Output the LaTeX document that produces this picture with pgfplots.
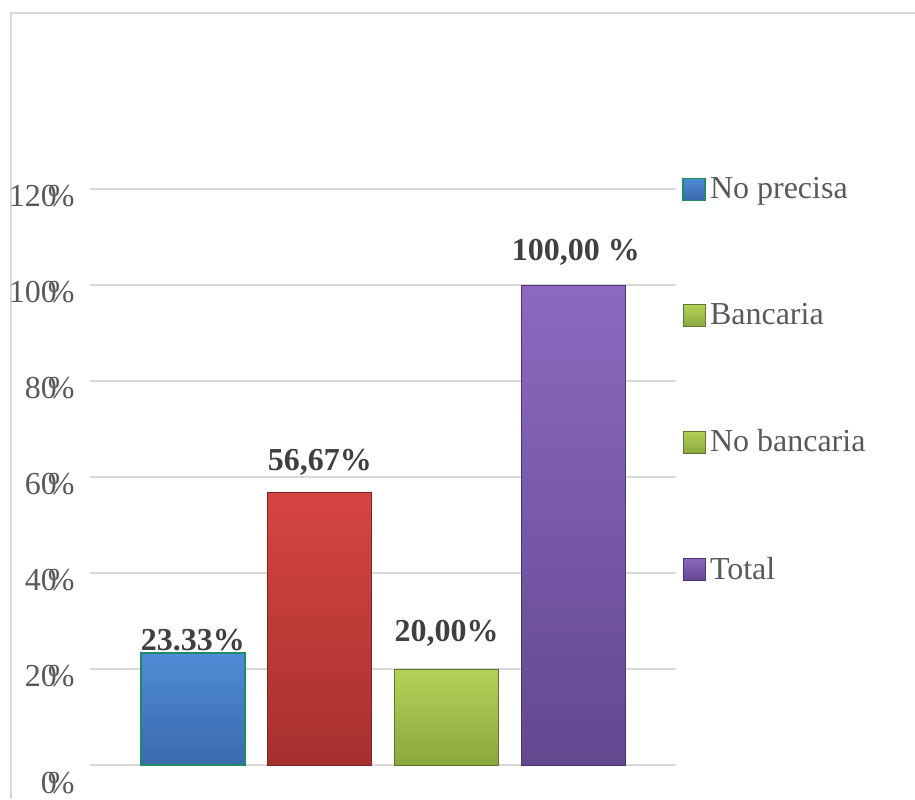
\documentclass[border=0pt]{standalone}
\usepackage{pgfplots}
\pgfplotsset{compat=1.18}
\usepackage{fontspec}
\setmainfont{Liberation Serif}
\definecolor{gridgray}{HTML}{D9D9D9}
\definecolor{tickgray}{HTML}{595959}
\definecolor{labgray}{HTML}{404040}
\definecolor{blueT}{HTML}{4F8CD6}
\definecolor{blueB}{HTML}{3A69AC}
\definecolor{blueE}{HTML}{1E8A66}
\definecolor{redT}{HTML}{D64541}
\definecolor{redB}{HTML}{A6302E}
\definecolor{redE}{HTML}{7A2525}
\definecolor{greenT}{HTML}{B2D259}
\definecolor{greenB}{HTML}{8AA83D}
\definecolor{greenE}{HTML}{5F7530}
\definecolor{purpT}{HTML}{8C69C0}
\definecolor{purpB}{HTML}{634890}
\definecolor{purpE}{HTML}{4A3570}
\newcommand{\pc}[1]{#1\kern-4.5pt\%}
\begin{document}
\begin{tikzpicture}[x=1pt,y=1pt]
\path[use as bounding box] (0,0) rectangle (457.5,399.5);
\draw[line width=1pt, color=gridgray] (5.5,0) -- (5.5,393) -- (457.5,393);
\begin{axis}[
  at={(45pt,17pt)}, anchor=south west,
  scale only axis, width=293pt, height=288pt,
  xmin=-0.812, xmax=3.809, ymin=0, ymax=120,
  ytick={0,20,40,60,80,100,120},
  yticklabels={\raisebox{-22pt}{\pc{0}},\pc{20},\pc{40},\pc{60},\pc{80},\pc{100},\pc{120}},
  xtick=\empty,
  ymajorgrids, grid style={gridgray, line width=1pt},
  axis line style={draw=none}, major tick length=0pt,
  yticklabel style={font=\fontsize{16}{18}\selectfont, text=tickgray, inner sep=0pt, xshift=-7.5pt, yshift=-3.5pt},
  clip=false,
  legend image code/.code={\draw[#1] (0pt,-5.5pt) rectangle (11pt,5.5pt);},
  legend style={draw=none, fill=none, at={(1.0,1.035)}, anchor=north west,
    font=\fontsize{16}{18}\selectfont, text=tickgray, row sep=47pt,
    nodes={inner sep=2pt}},
  legend cell align=left,
]
\addlegendimage{line width=0.8pt, top color=blueT, bottom color=blueB, draw=blueE}
\addlegendentry{No precisa}
\addlegendimage{line width=0.5pt, top color=greenT, bottom color=greenB, draw=greenE}
\addlegendentry{Bancaria}
\addlegendimage{line width=0.5pt, top color=greenT, bottom color=greenB, draw=greenE}
\addlegendentry{No bancaria}
\addlegendimage{line width=0.5pt, top color=purpT, bottom color=purpB, draw=purpE}
\addlegendentry{Total}

\addplot[forget plot, ybar, bar width=52pt, bar shift=0pt, line width=0.8pt,
  top color=blueT, bottom color=blueB, draw=blueE] coordinates {(0,23.33)};
\addplot[forget plot, ybar, bar width=52pt, bar shift=0pt, line width=0.5pt,
  top color=redT, bottom color=redB, draw=redE] coordinates {(1,56.67)};
\addplot[forget plot, ybar, bar width=52pt, bar shift=0pt, line width=0.5pt,
  top color=greenT, bottom color=greenB, draw=greenE] coordinates {(2,20.00)};
\addplot[forget plot, ybar, bar width=52pt, bar shift=0pt, line width=0.5pt,
  top color=purpT, bottom color=purpB, draw=purpE] coordinates {(3,100.00)};

% data labels
\addplot[forget plot, only marks, mark=none, nodes near coords={23.33\%},
  every node near coord/.append style={anchor=center, yshift=6.5pt, font=\fontsize{16}{18}\selectfont\bfseries, text=labgray}] coordinates {(0,23.33)};
\addplot[forget plot, only marks, mark=none, nodes near coords={56,67\%},
  every node near coord/.append style={anchor=center, yshift=15.5pt, font=\fontsize{16}{18}\selectfont\bfseries, text=labgray}] coordinates {(1,56.67)};
\addplot[forget plot, only marks, mark=none, nodes near coords={20,00\%},
  every node near coord/.append style={anchor=center, yshift=18pt, font=\fontsize{16}{18}\selectfont\bfseries, text=labgray}] coordinates {(2,20.00)};
\addplot[forget plot, only marks, mark=none, nodes near coords={100,00 \%},
  every node near coord/.append style={anchor=center, yshift=16.5pt, xshift=1.2pt, font=\fontsize{16}{18}\selectfont\bfseries, text=labgray}] coordinates {(3,100.00)};
\end{axis}
\end{tikzpicture}
\end{document}
